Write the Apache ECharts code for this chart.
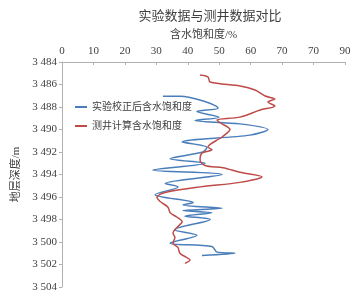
<!DOCTYPE html>
<html><head><meta charset="utf-8">
<script src="https://cdn.jsdelivr.net/npm/echarts@6/dist/echarts.min.js"></script>
<style>html,body{margin:0;padding:0;background:#fff}#c{width:356px;height:294px}</style>
</head><body><div id="c"></div>
<script>
var xTickLabels = ['0','10','20','30','40','50','60','70','70','90'];
var yTickValues = [3484,3486,3488,3490,3492,3494,3496,3498,3500,3502,3504];
var seriesNames = ['实验校正后含水饱和度','测井计算含水饱和度'];
// blue: [saturation %, depth m]
var labSat = [32.1,37.5,49.6,42.9,49.9,42.3,56.6,65.5,59.8,38.2,46.1,44.8,34.4,45.5,28.9,50.9,32.8,36.9,29.6,41.7,38.5,50.9,38.5,47.7,39.1,47.1,35.9,42.9,34.4,47.7,49.3,55.0,44.5];
var labDepth = [3487.04,3487.04,3488.1,3488.4,3488.9,3489.2,3489.5,3490.0,3490.5,3491.1,3491.6,3492.0,3492.6,3493.0,3493.6,3494.0,3494.8,3495.1,3495.8,3496.5,3496.7,3497.0,3497.2,3497.4,3497.7,3498.0,3498.9,3499.4,3500.1,3500.4,3500.9,3501.0,3501.2];
// red
var logSat = [43.9,46.4,47.1,56.6,61.4,64.6,67.7,65.5,67.7,63.0,56.6,49.3,50.3,53.4,50.9,46.4,47.7,44.5,43.9,45.5,51.2,56.6,63.6,56.6,43.9,32.8,30.2,31.2,33.7,34.4,36.6,38.2,36.6,35.3,35.9,35.3,36.9,37.5,39.8,40.7,39.1];
var logDepth = [3485.16,3485.33,3485.78,3486.13,3486.49,3487.02,3487.29,3487.56,3487.91,3488.27,3488.9,3489.16,3489.4,3490.0,3490.67,3491.56,3491.8,3492.1,3492.7,3493.2,3493.4,3493.8,3494.2,3494.7,3495.1,3495.6,3496.0,3496.4,3496.9,3497.4,3497.8,3498.2,3498.7,3499.2,3499.6,3500.1,3500.5,3501.0,3501.4,3501.6,3501.9];

function pairs(a,b){return a.map(function(v,i){return [v,b[i]];});}
var serif = 'Liberation Serif, "Noto Sans CJK SC", serif';
var chart = echarts.init(document.getElementById('c'));
chart.setOption({
  animation:false,
  title:{text:'实验数据与测井数据对比',left:205,textAlign:'center',top:5,textStyle:{fontFamily:serif,fontSize:13,fontWeight:'normal',color:'#404040'}},
  legend:{orient:'vertical',left:70,top:97,itemWidth:12,itemHeight:2,itemGap:9,icon:'rect',
    textStyle:{fontFamily:serif,fontSize:10,color:'#404040'},data:seriesNames},
  grid:{left:62,top:62,right:11,bottom:7},
  xAxis:{type:'value',position:'top',min:0,max:90,interval:10,
    name:'含水饱和度/%',nameLocation:'middle',nameGap:18,nameTextStyle:{fontFamily:serif,fontSize:11,color:'#404040'},
    axisLine:{lineStyle:{color:'#b0b0b0'}},axisTick:{show:true,inside:true,length:3,lineStyle:{color:'#b0b0b0'}},
    axisLabel:{fontFamily:serif,fontSize:11,color:'#404040',margin:5,formatter:function(v){return xTickLabels[Math.round(v/10)];}},
    splitLine:{show:false}},
  yAxis:{type:'value',inverse:true,min:3484,max:3504,interval:2,
    name:'地层深度/m',nameLocation:'middle',nameGap:37,nameRotate:90,nameTextStyle:{fontFamily:serif,fontSize:11,color:'#404040'},
    axisLine:{show:true,lineStyle:{color:'#b0b0b0'}},axisTick:{show:true,length:3,lineStyle:{color:'#b0b0b0'}},
    axisLabel:{fontFamily:serif,fontSize:11,color:'#404040',margin:5,formatter:function(v){var s=String(v);return s.charAt(0)+' '+s.slice(1);}},
    splitLine:{show:false}},
  series:[
    {name:seriesNames[0],type:'line',data:pairs(labSat,labDepth),smooth:0.3,showSymbol:false,lineStyle:{color:'#4a7ebb',width:1.5},itemStyle:{color:'#4a7ebb'}},
    {name:seriesNames[1],type:'line',data:pairs(logSat,logDepth),smooth:0.3,showSymbol:false,lineStyle:{color:'#be4b48',width:1.5},itemStyle:{color:'#be4b48'}}
  ]
});
</script></body></html>
